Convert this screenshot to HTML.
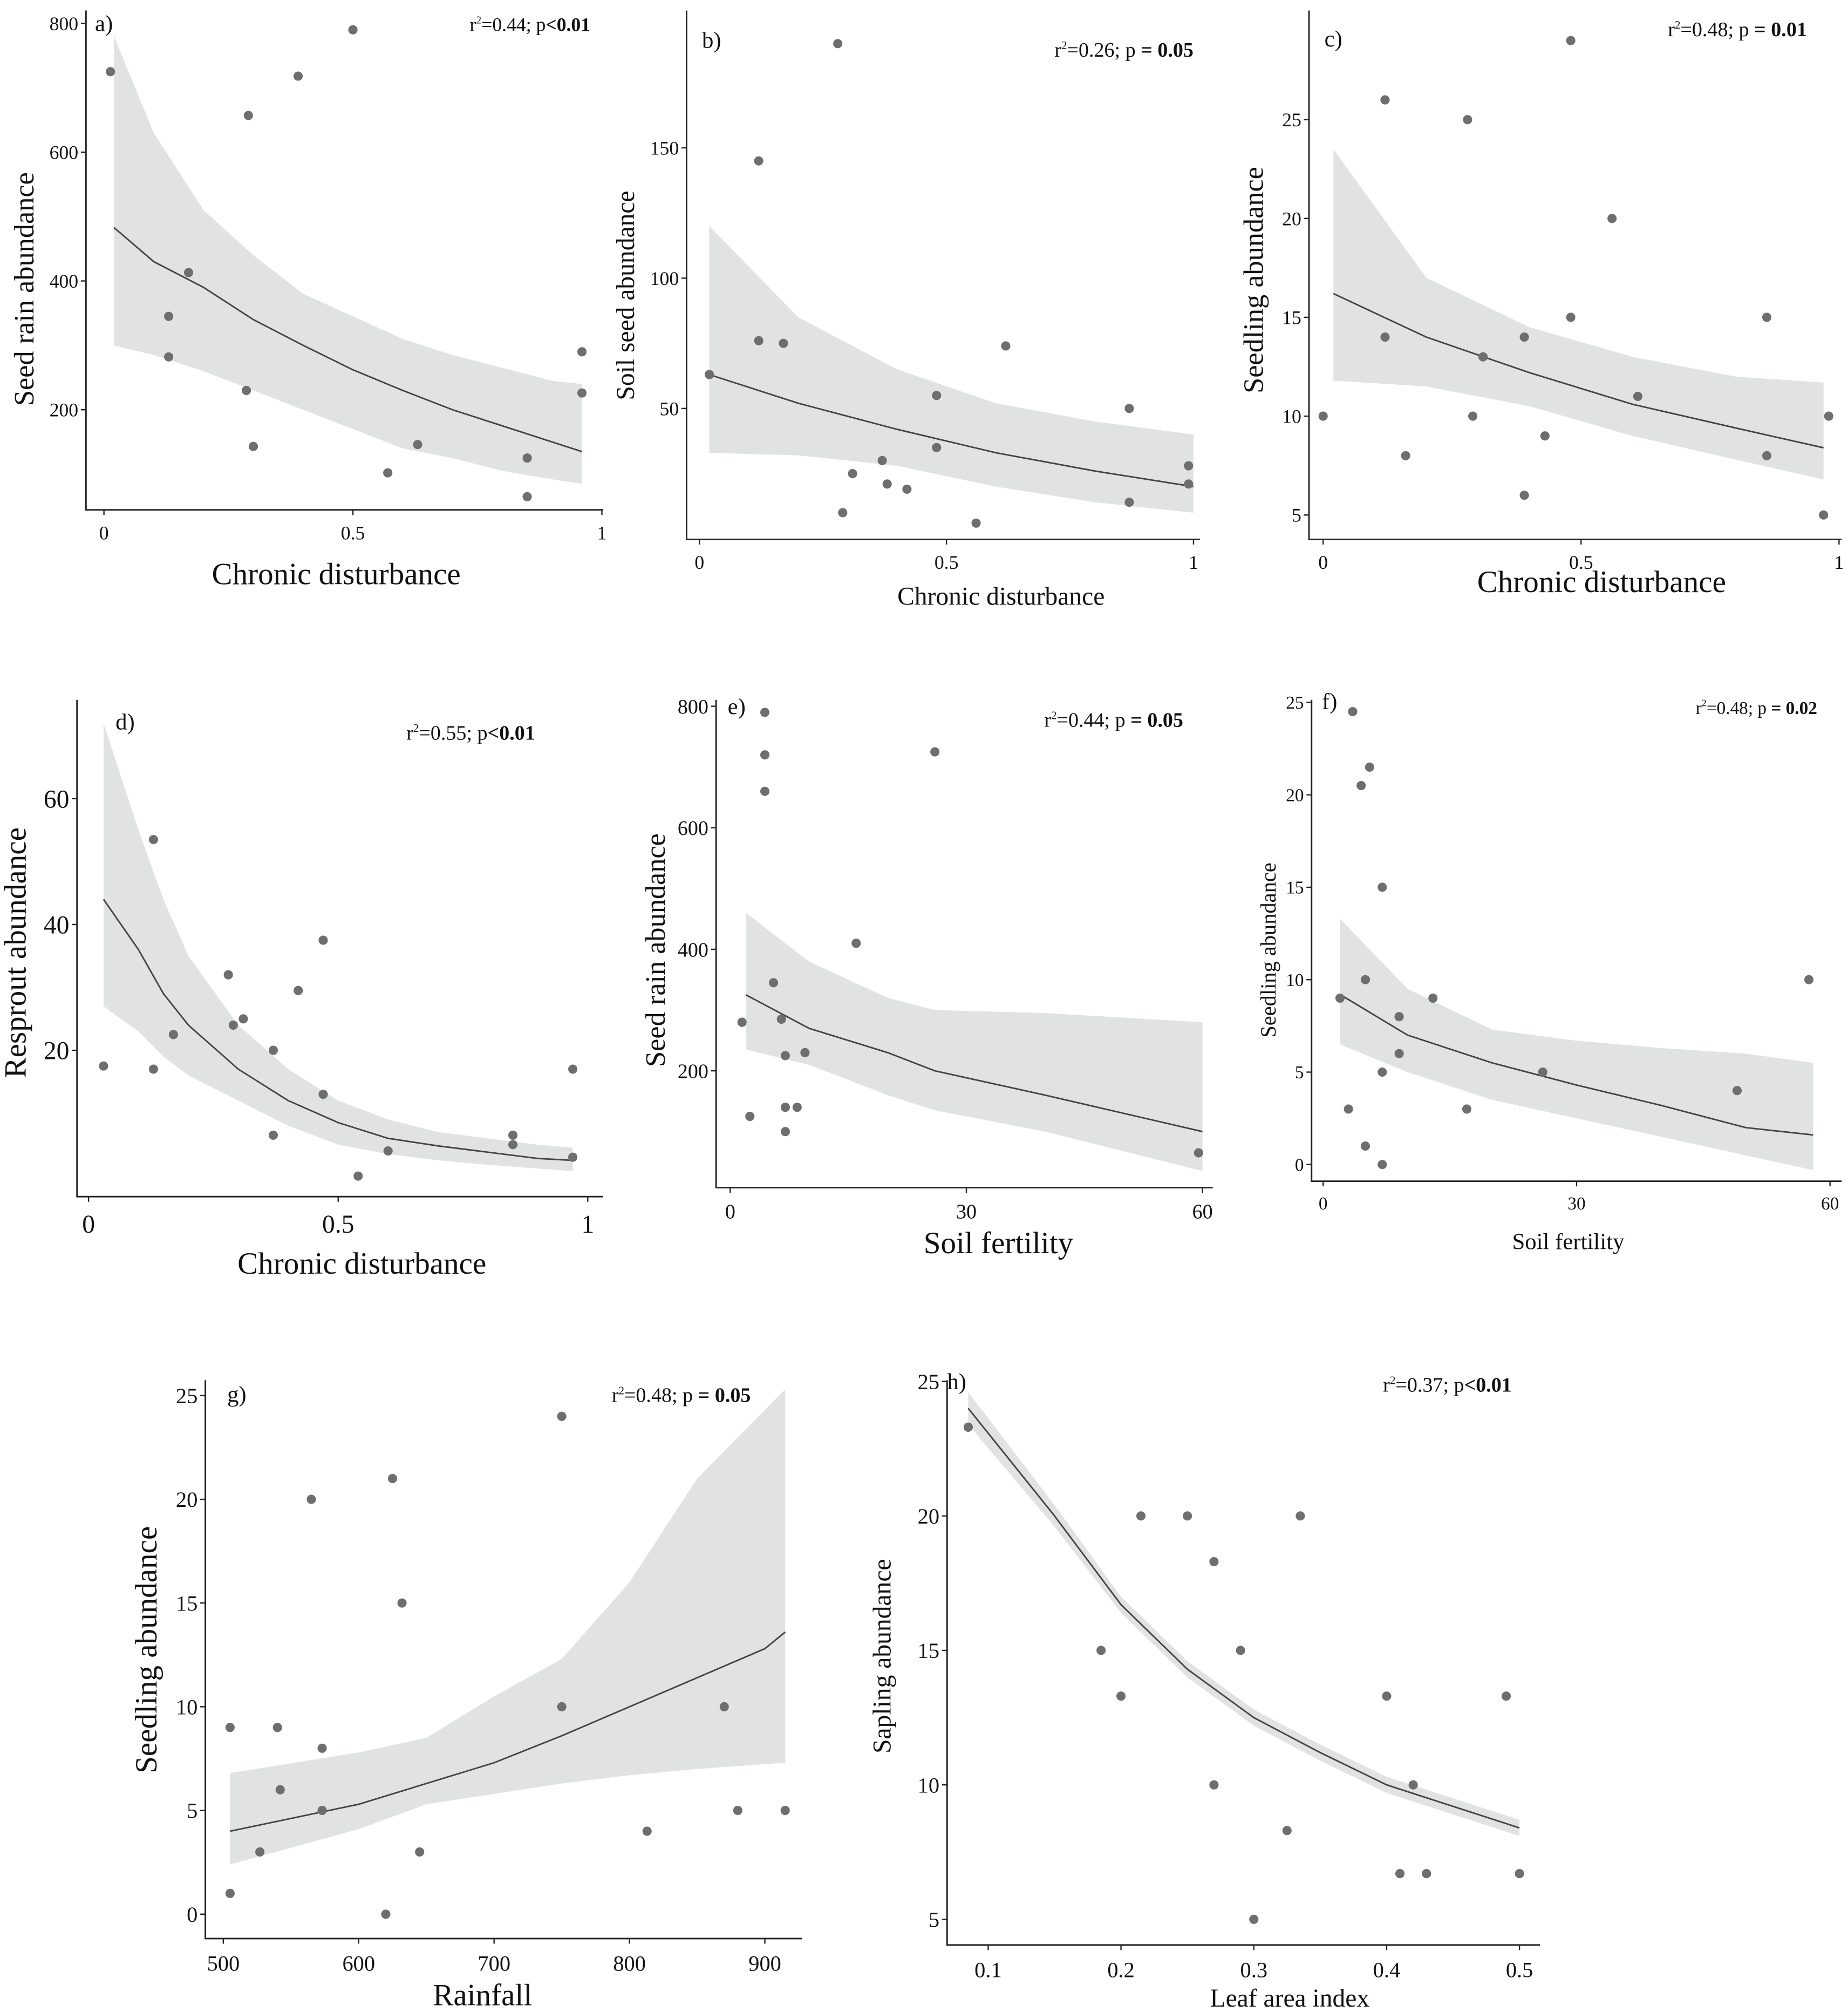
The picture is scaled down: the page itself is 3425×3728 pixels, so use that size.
<!DOCTYPE html>
<html><head><meta charset="utf-8"><style>
html,body{margin:0;padding:0;background:#fff}
svg{display:block}
text{font-family:"Liberation Serif",serif;fill:#111}
</style></head><body>
<svg id="fig" width="3425" height="3728" viewBox="0 0 1440 1567" xmlns="http://www.w3.org/2000/svg">
<rect width="1440" height="1567" fill="#fff"/>
</svg>
<script>
// Panel a
const aX=[0.013,0.13,0.13,0.17,0.29,0.30,0.286,0.39,0.5,0.57,0.63,0.85,0.85,0.96,0.96];
const aY=[725,345,282,413,657,143,230,718,790,102,146,125,65,290,226];
const aFitX=[0.02,0.1,0.2,0.3,0.4,0.5,0.6,0.7,0.8,0.9,0.96];
const aFit=[483,430,390,340,300,262,230,200,175,150,135];
const aUp=[780,630,510,440,380,345,310,285,265,245,240];
const aLo=[300,285,260,230,200,170,140,125,105,92,85];
// Panel b
const bX=[0.02,0.12,0.12,0.17,0.28,0.29,0.31,0.37,0.38,0.42,0.48,0.48,0.56,0.62,0.87,0.87,0.99,0.99];
const bY=[63,145,76,75,190,10,25,30,21,19,55,35,6,74,50,14,28,21];
const bFitX=[0.02,0.2,0.4,0.6,0.8,1.0];
const bFit=[63,52,42,33,26,20];
const bUp=[120,85,65,52,45,40];
const bLo=[33,32,28,20,14,10];
// Panel c
const cX=[0.0,0.12,0.12,0.16,0.28,0.29,0.31,0.39,0.39,0.43,0.48,0.48,0.56,0.61,0.86,0.86,0.98,0.97];
const cY=[10,26,14,8,25,10,13,14,6,9,29,15,20,11,15,8,10,5];
const cFitX=[0.02,0.2,0.4,0.6,0.8,0.97];
const cFit=[16.2,14,12.2,10.6,9.4,8.4];
const cUp=[23.5,17,14.5,13,12,11.7];
const cLo=[11.8,11.5,10.5,9,7.8,6.8];
// Panel d
const dX=[0.03,0.13,0.13,0.17,0.28,0.29,0.31,0.37,0.37,0.42,0.47,0.47,0.54,0.6,0.85,0.85,0.97,0.97];
const dY=[17.5,53.5,17,22.5,32,24,25,20,6.5,29.5,37.5,13,0,4,6.5,5,17,3];
const dFitX=[0.03,0.1,0.15,0.2,0.3,0.4,0.5,0.6,0.7,0.8,0.9,0.97];
const dFit=[44,36,29,24,17,12,8.5,6,4.8,3.8,2.8,2.5];
const dUp=[72,55,44,35,24,17,12,9,7,6,5,4.5];
const dLo=[27,23,19,16,12,8,5,3.5,2.5,1.8,1.2,0.8];
// Panel e
const eX=[4.4,4.4,4.4,26,5.5,1.5,6.5,7,7,7,2.5,8.5,9.5,16,59.5];
const eY=[790,720,660,725,345,280,285,225,140,100,125,140,230,410,65];
const eFitX=[2,10,20,26,40,60];
const eFit=[325,270,230,200,160,100];
const eUp=[460,380,320,300,295,280];
const eLo=[235,210,160,135,100,35];
// Panel f
const fX=[3.5,4.5,5.5,7,5,2,7,9,9,13,3,5,7,17,26,49,57.5];
const fY=[24.5,20.5,21.5,15,10,9,5,8,6,9,3,1,0,3,5,4,10];
const fFitX=[2,10,20,30,40,50,58];
const fFit=[9.2,7,5.5,4.3,3.2,2,1.6];
const fUp=[13.3,9.5,7.3,6.7,6.3,6,5.5];
const fLo=[6.5,5,3.5,2.5,1.5,0.5,-0.3];
// Panel g
const gX=[505,505,527,540,542,565,573,573,625,632,620,645,750,750,813,870,880,915];
const gY=[9,1,3,9,6,20,8,5,21,15,0,3,24,10,4,10,5,5];
const gFitX=[505,600,700,750,800,900,915];
const gFit=[4,5.3,7.3,8.6,10,12.8,13.6];
const gUpX=[505,600,650,700,750,800,850,915];
const gUp=[6.8,7.8,8.5,10.5,12.3,16,21,25.3];
const gLo=[2.4,4.1,5.3,5.8,6.3,6.7,7,7.3];
// Panel h
const hX=[0.085,0.185,0.2,0.215,0.25,0.27,0.27,0.29,0.3,0.325,0.335,0.4,0.41,0.42,0.43,0.49,0.5];
const hY=[23.3,15,13.3,20,20,18.3,10,15,5,8.3,20,13.3,6.7,10,6.7,13.3,6.7];
const hFitX=[0.085,0.15,0.2,0.25,0.3,0.35,0.4,0.45,0.5];
const hFit=[24,20,16.7,14.3,12.5,11.2,10,9.2,8.4];
const hUp=[24.6,20.4,17.0,14.6,12.8,11.5,10.3,9.5,8.7];
const hLo=[23.4,19.6,16.4,14.0,12.2,10.9,9.7,8.9,8.1];
// Tick labels
const aTicksX=[0,0.5,1], aTicksY=[200,400,600,800];
const bTicksX=[0,0.5,1], bTicksY=[50,100,150];
const cTicksX=[0,0.5,1], cTicksY=[5,10,15,20,25];
const dTicksX=[0,0.5,1], dTicksY=[20,40,60];
const eTicksX=[0,30,60], eTicksY=[200,400,600,800];
const fTicksX=[0,30,60], fTicksY=[0,5,10,15,20,25];
const gTicksX=[500,600,700,800,900], gTicksY=[0,5,10,15,20,25];
const hTicksX=[0.1,0.2,0.3,0.4,0.5], hTicksY=[5,10,15,20,25];

const NS='http://www.w3.org/2000/svg';
const svg=document.getElementById('fig');
function mk(tag,attrs,parent){const e=document.createElementNS(NS,tag);for(const k in attrs)e.setAttribute(k,attrs[k]);(parent||svg).appendChild(e);return e;}
function lin(d0,d1,r0,r1){return v=>r0+(v-d0)*(r1-r0)/(d1-d0);}

function panel(p){
  const g=mk('g',{});
  
  
  const sx=lin(p.xd[0],p.xd[1],p.xr[0],p.xr[1]);
  const sy=lin(p.yd[0],p.yd[1],p.yr[0],p.yr[1]);
  const upX=p.upX||p.fitX;
  let pts=upX.map((x,i)=>sx(x)+','+sy(p.up[i]));
  for(let i=p.lo.length-1;i>=0;i--)pts.push(sx(upX[i])+','+sy(p.lo[i]));
  const band=mk('polygon',{points:pts.join(' '),fill:'#e1e2e2'},g);
  
  
  const fit=mk('polyline',{points:p.fitX.map((x,i)=>sx(x)+','+sy(p.fit[i])).join(' '),fill:'none',stroke:'#444','stroke-width':1.2},g);
  
  
  p.px.forEach((x,i)=>{
    const c=mk('circle',{cx:sx(x),cy:sy(p.py[i]),r:3.6,fill:'#6e6e6e'},g);
    
    
  });
  const ax=mk('path',{d:`M${p.ax[0]},${p.ax[1]} V${p.ax[2]} H${p.ax[3]}`,fill:'none',stroke:'#222','stroke-width':1.2},g);
  
  
  p.tx.forEach(t=>{
    const tt=mk('text',{x:sx(t),y:p.ax[2]+p.tfs+8,'font-size':p.tfs,'text-anchor':'middle'},g);
    tt.textContent=t;
    
    
    mk('line',{x1:sx(t),x2:sx(t),y1:p.ax[2],y2:p.ax[2]+4,stroke:'#222'},g);
  });
  p.ty.forEach(t=>{
    const tt=mk('text',{x:p.ax[0]-6,y:sy(t)+p.tfs*0.35,'font-size':p.tfs,'text-anchor':'end'},g);
    tt.textContent=t;
    
    
    mk('line',{x1:p.ax[0]-4,x2:p.ax[0],y1:sy(t),y2:sy(t),stroke:'#222'},g);
  });
  const xl=mk('text',{x:p.xl[0],y:p.xl[1],'font-size':p.xl[2],'text-anchor':'middle'},g);
  xl.textContent=p.xlab;
  
  
  const yl=mk('text',{x:0,y:0,'font-size':p.yl[2],'text-anchor':'middle',transform:`translate(${p.yl[0]},${p.yl[1]}) rotate(-90)`},g);
  yl.textContent=p.ylab;
  
  
  const lab=mk('text',{x:p.lab[0],y:p.lab[1],'font-size':18},g);
  lab.textContent=p.id+')';
  
  
  const st=mk('text',{x:p.st[0],y:p.st[1],'font-size':p.st[2],'text-anchor':'end'},g);
  st.innerHTML=`r<tspan dy="-6" font-size="${p.st[2]*0.55}">2</tspan><tspan dy="6">=${p.r2}; p</tspan><tspan font-weight="bold">${p.pv}</tspan>`;
  
  
}

panel({id:'a',xd:[0,1],xr:[81,469],yd:[800,200],yr:[18,319],px:aX,py:aY,fitX:aFitX,fit:aFit,up:aUp,lo:aLo,
 ax:[67,8,397,470],tx:aTicksX,ty:aTicksY,tfs:15,xl:[262,455,24],xlab:'Chronic disturbance',yl:[26,225,22],ylab:'Seed rain abundance',lab:[74,24],st:[460,24,15],r2:'0.44',pv:'<0.01'});
panel({id:'b',xd:[0,1],xr:[545,930],yd:[150,50],yr:[115,318],px:bX,py:bY,fitX:bFitX,fit:bFit,up:bUp,lo:bLo,
 ax:[535,8,420,935],tx:bTicksX,ty:bTicksY,tfs:15,xl:[780,471,20],xlab:'Chronic disturbance',yl:[494,230,20],ylab:'Soil seed abundance',lab:[547,37],st:[930,44,16],r2:'0.26',pv:' = 0.05'});
panel({id:'c',xd:[0,1],xr:[1031,1433],yd:[25,5],yr:[93,401],px:cX,py:cY,fitX:cFitX,fit:cFit,up:cUp,lo:cLo,
 ax:[1020,8,420,1435],tx:cTicksX,ty:cTicksY,tfs:15,xl:[1248,461,24],xlab:'Chronic disturbance',yl:[984,218,22],ylab:'Seedling abundance',lab:[1032,36],st:[1408,28,16],r2:'0.48',pv:' = 0.01'});
panel({id:'d',xd:[0,1],xr:[69,458],yd:[60,20],yr:[622,818],px:dX,py:dY,fitX:dFitX,fit:dFit,up:dUp,lo:dLo,
 ax:[60,545,932,470],tx:dTicksX,ty:dTicksY,tfs:20,xl:[282,992,24],xlab:'Chronic disturbance',yl:[20,742,24],ylab:'Resprout abundance',lab:[90,568],st:[417,576,16],r2:'0.55',pv:'<0.01'});
panel({id:'e',xd:[0,60],xr:[569,937],yd:[800,200],yr:[550,834],px:eX,py:eY,fitX:eFitX,fit:eFit,up:eUp,lo:eLo,
 ax:[558,545,925,945],tx:eTicksX,ty:eTicksY,tfs:16,xl:[778,976,24],xlab:'Soil fertility',yl:[518,740,22],ylab:'Seed rain abundance',lab:[567,556],st:[922,566,16],r2:'0.44',pv:' = 0.05'});
panel({id:'f',xd:[0,60],xr:[1031,1426],yd:[25,0],yr:[547,907],px:fX,py:fY,fitX:fFitX,fit:fFit,up:fUp,lo:fLo,
 ax:[1022,545,920,1435],tx:fTicksX,ty:fTicksY,tfs:14,xl:[1222,973,18],xlab:'Soil fertility',yl:[994,740,17],ylab:'Seedling abundance',lab:[1030,552],st:[1416,556,14],r2:'0.48',pv:' = 0.02'});
panel({id:'g',xd:[500,900],xr:[174,596],yd:[25,0],yr:[1087,1491],px:gX,py:gY,fitX:gFitX,fit:gFit,upX:gUpX,up:gUp,lo:gLo,
 ax:[160,1075,1510,625],tx:gTicksX,ty:gTicksY,tfs:17,xl:[376,1562,24],xlab:'Rainfall',yl:[122,1285,24],ylab:'Seedling abundance',lab:[177,1092],st:[585,1092,16],r2:'0.48',pv:' = 0.05'});
panel({id:'h',xd:[0.1,0.5],xr:[770,1184],yd:[25,5],yr:[1076,1495],px:hX,py:hY,fitX:hFitX,fit:hFit,up:hUp,lo:hLo,
 ax:[738,1075,1515,1200],tx:hTicksX,ty:hTicksY,tfs:17,xl:[1005,1563,20],xlab:'Leaf area index',yl:[694,1290,20],ylab:'Sapling abundance',lab:[738,1082],st:[1178,1084,16],r2:'0.37',pv:'<0.01'});
</script>
</body></html>
